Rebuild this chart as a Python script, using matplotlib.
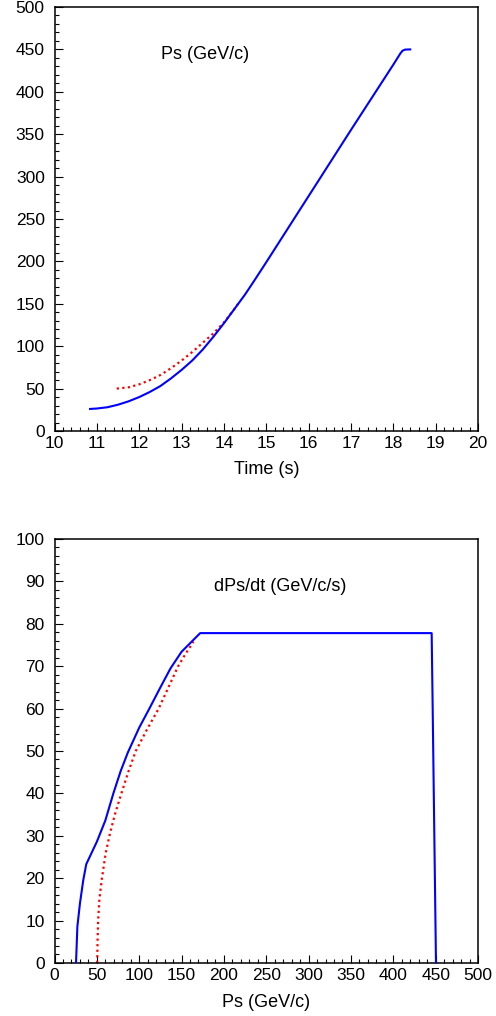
import numpy as np
import matplotlib
matplotlib.use("Agg")
import matplotlib.pyplot as plt
from matplotlib.ticker import MultipleLocator

plt.rcParams['font.family'] = ['Liberation Sans', 'DejaVu Sans']
plt.rcParams['font.size'] = 12.5

# top panel: momentum vs time
t_blue = [10.84, 11.0, 11.25, 11.5, 11.75, 12.0, 12.25, 12.5, 12.75, 13.0, 13.25,
          13.5, 13.75, 14.0, 14.25, 14.5, 14.7, 15.0, 16.0, 17.0, 18.0, 18.12,
          18.17, 18.22, 18.28, 18.4]
ps_blue = [26, 26.5, 28, 31, 35, 40, 46, 53, 62, 72, 83, 96, 111, 127, 144, 161,
           176, 199, 277, 355, 432, 441.5, 445.5, 448.5, 449.8, 450]
t_red = [11.47, 11.75, 12.0, 12.25, 12.5, 12.75, 13.0, 13.25, 13.5, 13.75, 14.0,
         14.25, 14.35]
ps_red = [50, 51.5, 55, 60, 66, 74, 83, 93, 104, 115, 128, 144, 151]

# bottom panel: dPs/dt vs Ps
p_blue = [25.4, 27, 30, 34, 37.5, 50, 60, 69.5, 78, 86.5, 100, 112, 125, 137,
          150, 172, 445.3, 446.5, 450.4]
dp_blue = [0, 8.6, 14, 19.6, 23.3, 28.6, 33.6, 40, 45.2, 49.6, 55.5, 60, 65, 69.5,
           73.4, 77.8, 77.8, 60, 0]
p_red = [50.4, 50.8, 51.5, 53, 56, 60.5, 66, 72, 79, 87, 96, 109, 123, 134.5,
         146, 155, 160, 164]
dp_red = [0, 5, 10, 15, 20, 26, 31, 35.5, 40, 45, 50, 55, 60, 65, 70, 73, 74.5,
          75.8]

fig = plt.figure(figsize=(4.96, 10.16), dpi=100)
ax1 = fig.add_axes([0.1099, 0.5758, 0.8538, 0.4173])
ax2 = fig.add_axes([0.1099, 0.0522, 0.8538, 0.4173])

ax1.plot(t_blue, ps_blue, color='#0000ff', lw=1.5, zorder=3)
ax1.plot(t_red, ps_red, color='#ff0000', lw=1.6, ls=(0, (1, 1.5)), zorder=2)
ax1.set_xlim(10, 20)
ax1.set_ylim(0, 500)
ax1.xaxis.set_major_locator(MultipleLocator(1))
ax1.xaxis.set_minor_locator(MultipleLocator(0.2))
ax1.yaxis.set_major_locator(MultipleLocator(50))
ax1.yaxis.set_minor_locator(MultipleLocator(10))
ax1.set_xlabel('Time (s)', labelpad=7, fontsize=13)
ax1.text(0.355, 0.889, 'Ps (GeV/c)', transform=ax1.transAxes, ha='center',
         va='center', fontsize=13)

ax2.plot(p_blue, dp_blue, color='#0000ff', lw=1.5, zorder=3)
ax2.plot(p_red, dp_red, color='#ff0000', lw=1.6, ls=(0, (1, 1.5)), zorder=2)
ax2.set_xlim(0, 500)
ax2.set_ylim(0, 100)
ax2.xaxis.set_major_locator(MultipleLocator(50))
ax2.xaxis.set_minor_locator(MultipleLocator(10))
ax2.yaxis.set_major_locator(MultipleLocator(10))
ax2.yaxis.set_minor_locator(MultipleLocator(2))
ax2.set_xlabel('Ps (GeV/c)', labelpad=8, fontsize=13)
ax2.text(0.532, 0.887, 'dPs/dt (GeV/c/s)', transform=ax2.transAxes, ha='center',
         va='center', fontsize=13)

for ax in (ax1, ax2):
    for s in ax.spines.values():
        s.set_linewidth(1.1)
    ax.tick_params(which='both', direction='in', top=False, right=False, width=0.8)
    ax.tick_params(which='major', length=5.5)
    ax.tick_params(which='minor', length=3)
    ax.tick_params(axis='y', which='major', pad=7)
    ax.tick_params(axis='x', which='major', pad=3.5)

fig.savefig('out.png', dpi=100)
